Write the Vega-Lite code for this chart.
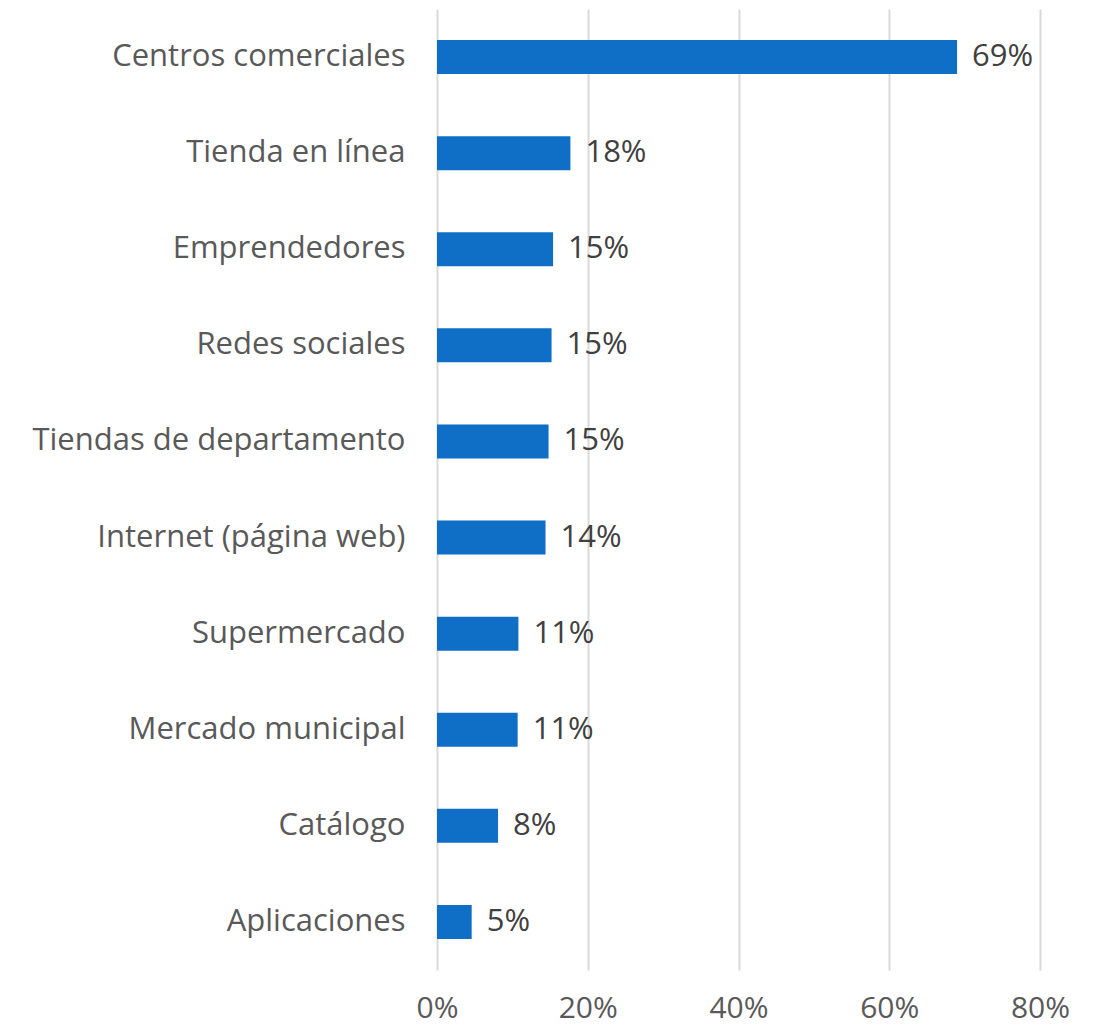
{
  "$schema": "https://vega.github.io/schema/vega-lite/v6.json",
  "width": 603,
  "height": 961,
  "autosize": {"type": "none"},
  "padding": {"left": 437, "top": 9, "right": 59, "bottom": 58},
  "background": "white",
  "config": {
    "view": {"stroke": null},
    "font": "Open Sans"
  },
  "data": {
    "values": [
      {"canal": "Centros comerciales", "valor": 0.69},
      {"canal": "Tienda en línea", "valor": 0.177},
      {"canal": "Emprendedores", "valor": 0.154},
      {"canal": "Redes sociales", "valor": 0.152},
      {"canal": "Tiendas de departamento", "valor": 0.148},
      {"canal": "Internet (página web)", "valor": 0.144},
      {"canal": "Supermercado", "valor": 0.108},
      {"canal": "Mercado municipal", "valor": 0.107},
      {"canal": "Catálogo", "valor": 0.081},
      {"canal": "Aplicaciones", "valor": 0.046}
    ]
  },
  "encoding": {
    "y": {
      "field": "canal",
      "type": "nominal",
      "sort": null,
      "scale": {"paddingInner": 0.646, "paddingOuter": 0.323},
      "axis": {
        "title": null,
        "domain": false,
        "ticks": false,
        "labelPadding": 32,
        "labelFont": "Open Sans",
        "labelFontSize": 31,
        "labelColor": "#595959",
        "labelLimit": 500
      }
    },
    "x": {
      "field": "valor",
      "type": "quantitative",
      "scale": {"domain": [0, 0.8], "nice": false},
      "axis": {
        "title": null,
        "values": [0, 0.2, 0.4, 0.6, 0.8],
        "format": ".0%",
        "domain": false,
        "ticks": false,
        "grid": true,
        "gridColor": "#D9D9D9",
        "gridWidth": 2,
        "labelPadding": 23,
        "labelFont": "Open Sans",
        "labelFontSize": 30,
        "labelColor": "#595959",
        "labelFlush": false
      }
    }
  },
  "layer": [
    {"mark": {"type": "bar", "color": "#0F6FC6"}},
    {
      "mark": {"type": "text", "align": "left", "baseline": "middle", "dx": 15, "font": "Open Sans", "fontSize": 31, "color": "#404040"},
      "encoding": {
        "text": {"field": "valor", "type": "quantitative", "format": ".0%"}
      }
    }
  ]
}
